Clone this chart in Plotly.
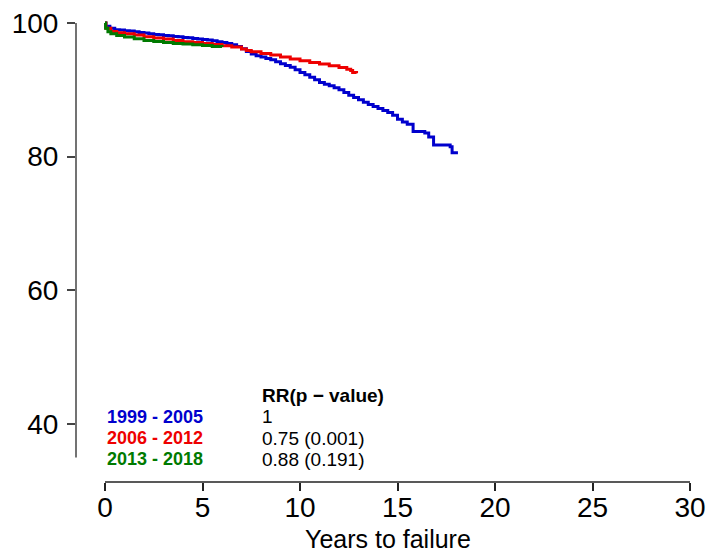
import plotly.graph_objects as go

# Kaplan-Meier style survival estimates (% free of failure) by period
blue_t = [0, 0.05, 0.25, 0.5, 0.75, 1.0, 1.25, 1.5, 1.75, 2.0, 2.25, 2.5, 2.75, 3.0, 3.25,
          3.5, 3.75, 4.0, 4.25, 4.5, 4.75, 5.0, 5.25, 5.5, 5.75, 6.0, 6.25, 6.5, 6.75,
          7.0, 7.25, 7.5, 7.75, 8.0, 8.25, 8.5, 8.75, 9.0, 9.25, 9.5, 9.75, 10.0, 10.25,
          10.5, 10.75, 11.0, 11.25, 11.5, 11.75, 12.0, 12.25, 12.5, 12.75, 13.0, 13.25,
          13.5, 13.75, 14.0, 14.25, 14.5, 14.75, 15.0, 15.25, 15.5, 15.8, 16.4, 16.6,
          16.85, 17.7, 17.8, 18.1]
blue_s = [100, 99.5, 99.2, 99.0, 98.95, 98.85, 98.8, 98.7, 98.6, 98.5, 98.4, 98.3, 98.25,
          98.15, 98.1, 98.0, 97.95, 97.85, 97.8, 97.7, 97.6, 97.55, 97.45, 97.35, 97.2,
          97.1, 96.95, 96.75, 96.5, 96.15, 95.75, 95.35, 95.1, 94.9, 94.7, 94.5, 94.2,
          93.9, 93.65, 93.4, 93.0, 92.6, 92.25, 91.9, 91.5, 91.1, 90.85, 90.6, 90.3, 90.0,
          89.6, 89.2, 88.85, 88.5, 88.15, 87.8, 87.5, 87.2, 86.9, 86.6, 86.2, 85.6, 85.2,
          84.85, 83.75, 83.55, 82.95, 81.75, 81.5, 80.6, 80.6]

red_t = [0, 0.05, 0.3, 0.6, 1.0, 1.5, 2.0, 2.5, 3.0, 3.5, 4.0, 4.5, 5.0, 5.5, 6.0, 6.5,
         7.0, 7.25, 7.5, 8.0, 8.5, 9.0, 9.5, 10.0, 10.5, 11.0, 11.5, 12.0, 12.4, 12.6,
         12.7, 12.9]
red_s = [100, 99.2, 98.75, 98.55, 98.4, 98.2, 97.95, 97.75, 97.6, 97.4, 97.2, 97.1, 96.95,
         96.8, 96.6, 96.4, 96.1, 95.9, 95.7, 95.45, 95.2, 94.9, 94.6, 94.35, 94.1, 93.85,
         93.6, 93.35, 93.1, 92.9, 92.6, 92.5]

green_t = [0, 0.03, 0.15, 0.3, 0.6, 1.0, 1.5, 2.0, 2.5, 3.0, 3.5, 4.0, 4.5, 5.0, 5.5, 6.0]
green_s = [100, 99.2, 98.7, 98.4, 98.15, 97.9, 97.65, 97.4, 97.25, 97.1, 96.95, 96.85,
           96.75, 96.65, 96.5, 96.4]

periods = ["1999 - 2005", "2006 - 2012", "2013 - 2018"]
rr_labels = ["1", "0.75 (0.001)", "0.88 (0.191)"]
colors = ["#0000CD", "#EE0000", "#007A00"]

x_ticks = [0, 5, 10, 15, 20, 25, 30]
y_ticks = [40, 60, 80, 100]

FONT = "Arial, Liberation Sans, sans-serif"

fig = go.Figure()
for t, s, c, name in [(blue_t, blue_s, colors[0], periods[0]),
                      (red_t, red_s, colors[1], periods[1]),
                      (green_t, green_s, colors[2], periods[2])]:
    fig.add_trace(go.Scatter(x=t, y=s, mode="lines", line=dict(color=c, width=3, shape="hv"),
                             name=name, showlegend=False))

# Separated axis lines (base-graphics look)
fig.add_shape(type="line", xref="paper", yref="y", x0=0, x1=0, y0=35, y1=100,
              line=dict(color="#444", width=1.5))
fig.add_shape(type="line", xref="x", yref="paper", x0=0, x1=30, y0=0, y1=0,
              line=dict(color="#222", width=1.5))

# Period key with relative risks
row_y = [41.05, 37.9, 34.76]
for lab, rr, c, y in zip(periods, rr_labels, colors, row_y):
    fig.add_annotation(x=0, y=y, xref="x", yref="y", text=f"<b>{lab}</b>", showarrow=False,
                       xanchor="left", yanchor="middle", font=dict(family=FONT, size=18, color=c))
    fig.add_annotation(x=7.95, y=y, xref="x", yref="y", text=rr, showarrow=False,
                       xanchor="left", yanchor="middle", font=dict(family=FONT, size=19, color="black"))
fig.add_annotation(x=7.95, y=44.3, xref="x", yref="y", text="<b>RR(p \u2212 value)</b>",
                   showarrow=False, xanchor="left", yanchor="middle",
                   font=dict(family=FONT, size=19, color="black"))

# X axis title
fig.add_annotation(x=0.5, y=-0.122, xref="paper", yref="paper", text="Years to failure",
                   showarrow=False, xanchor="center", yanchor="middle",
                   font=dict(family=FONT, size=25, color="black"))

fig.update_layout(
    width=720, height=554,
    margin=dict(l=76, r=20, t=14, b=72),
    plot_bgcolor="white", paper_bgcolor="white",
    font=dict(family=FONT, color="black"),
    xaxis=dict(range=[-1.487, 30.513], tickvals=x_ticks, ticks="outside", ticklen=8,
               tickwidth=1.5, tickcolor="#222", showline=False, showgrid=False, zeroline=False,
               automargin=False, ticklabelstandoff=-8,
               tickfont=dict(size=28, family=FONT, color="black")),
    yaxis=dict(range=[31.32, 101.35], tickvals=y_ticks, ticks="outside", ticklen=8,
               tickwidth=1.5, tickcolor="#444", showline=False, showgrid=False, zeroline=False,
               automargin=False, ticklabelstandoff=3,
               tickfont=dict(size=28, family=FONT, color="black")),
)

fig.write_html("out.html")
